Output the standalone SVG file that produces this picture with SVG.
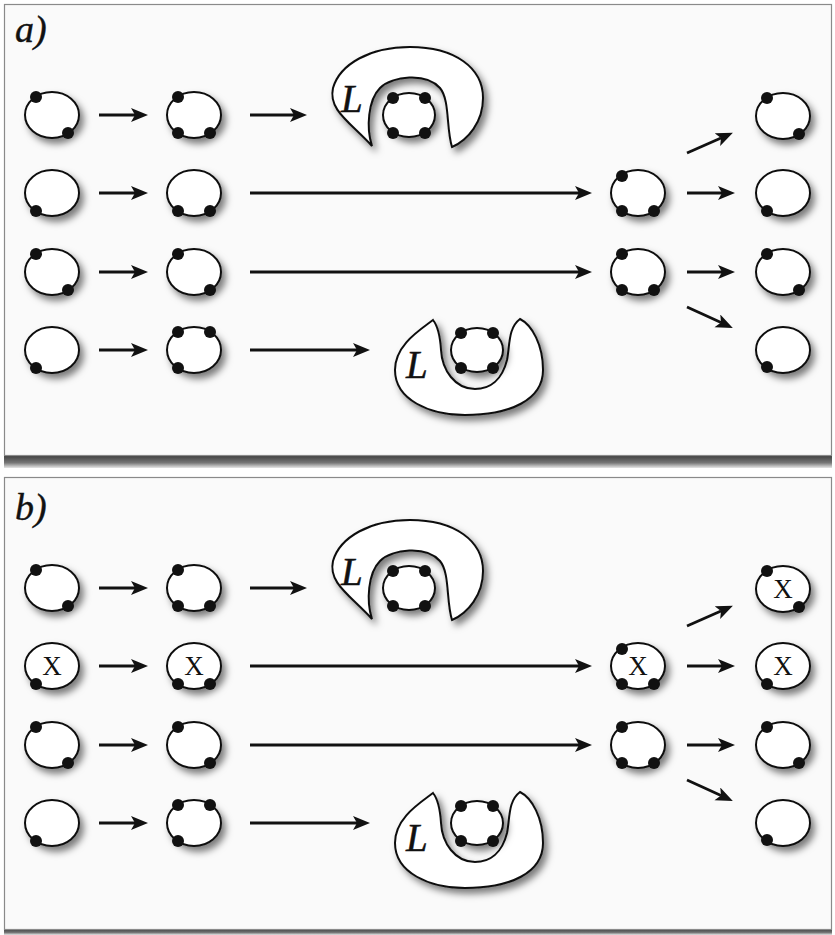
<svg xmlns="http://www.w3.org/2000/svg" width="835" height="935" viewBox="0 0 835 935">
<defs>
<style>
.panel{fill:#fafafa;stroke:#8a8a8a;stroke-width:1.2}
.cell{fill:#fff;stroke:#111;stroke-width:2;filter:url(#sh)}
.dot{fill:#111}
.lig{fill:#fff;stroke:#111;stroke-width:2;filter:url(#sh)}
.lbl{font-family:"Liberation Serif",serif;font-style:italic;font-size:39px;fill:#111;stroke:#111;stroke-width:0.5}
.tag{font-family:"Liberation Serif",serif;font-style:italic;font-size:38px;fill:#111;stroke:#111;stroke-width:0.4}
.x{font-family:"Liberation Serif",serif;font-size:27px;fill:#111;text-anchor:middle}
.arr{stroke:#111;stroke-width:2.8;fill:none;marker-end:url(#ah)}
</style>
<filter id="sh" x="-30%" y="-30%" width="170%" height="170%">
<feDropShadow dx="4" dy="5" stdDeviation="3.5" flood-color="#000" flood-opacity="0.5"/>
</filter>
<marker id="ah" markerUnits="userSpaceOnUse" markerWidth="20" markerHeight="16" refX="4" refY="7" orient="auto">
<path d="M0,0 L17,7 L0,14 L4,7 Z" fill="#111"/>
</marker>
<linearGradient id="bar" x1="0" y1="0" x2="0" y2="1">
<stop offset="0" stop-color="#3a3a3a"/>
<stop offset="0.6" stop-color="#777"/>
<stop offset="1" stop-color="#e6e6e6"/>
</linearGradient>
</defs>
<rect width="835" height="935" fill="#fff"/>

<!-- panel a -->
<rect x="4" y="455" width="828" height="13" fill="url(#bar)"/>
<rect class="panel" x="4.5" y="4.5" width="827" height="451"/>
<text class="tag" x="15" y="42">a)</text>

<g id="panel-a">
<g id="connectors-a">
<line class="arr" x1="99" y1="115" x2="135" y2="115"/>
<line class="arr" x1="250" y1="115" x2="294" y2="115"/>
<line class="arr" x1="99" y1="193" x2="135" y2="193"/>
<line class="arr" x1="250" y1="193" x2="579" y2="193"/>
<line class="arr" x1="99" y1="272" x2="135" y2="272"/>
<line class="arr" x1="250" y1="272" x2="579" y2="272"/>
<line class="arr" x1="99" y1="350" x2="135" y2="350"/>
<line class="arr" x1="250" y1="350" x2="357" y2="350"/>
<line class="arr" x1="687" y1="153" x2="721" y2="138"/>
<line class="arr" x1="687" y1="193" x2="722" y2="193"/>
<line class="arr" x1="687" y1="272" x2="722" y2="272"/>
<line class="arr" x1="687" y1="307" x2="721" y2="322.5"/>
</g>

<g id="a-r1-c1"><ellipse class="cell" cx="52" cy="115" rx="27" ry="23"/><circle class="dot" cx="36" cy="97" r="6"/><circle class="dot" cx="68" cy="133" r="6"/></g>
<g id="a-r1-c2"><ellipse class="cell" cx="194" cy="115" rx="27" ry="23"/><circle class="dot" cx="178" cy="97" r="6"/><circle class="dot" cx="178" cy="133" r="6"/><circle class="dot" cx="210" cy="133" r="6"/></g>
<g id="a-r1-L">
<path class="lig" d="M372,146 C366,128 368,100 380,88 C392,76 426,72 440,88 C450,100 446,128 452,147 C468,140 483,122 483,98 C483,68 455,47 410,47 C370,47 340,64 333,88 C328,110 350,122 372,146 Z"/>
<ellipse class="cell" cx="409" cy="115" rx="26" ry="22"/>
<circle class="dot" cx="393" cy="98" r="6"/><circle class="dot" cx="425" cy="98" r="6"/><circle class="dot" cx="393" cy="133" r="6"/><circle class="dot" cx="425" cy="133" r="6"/>
<text class="lbl" x="341" y="112">L</text>
</g>
<g id="a-r1-right"><ellipse class="cell" cx="783" cy="116" rx="27" ry="23"/><circle class="dot" cx="767" cy="98" r="6"/><circle class="dot" cx="799" cy="134" r="6"/></g>

<g id="a-r2-c1"><ellipse class="cell" cx="52" cy="193" rx="27" ry="23"/><circle class="dot" cx="36" cy="211" r="6"/></g>
<g id="a-r2-c2"><ellipse class="cell" cx="194" cy="193" rx="27" ry="23"/><circle class="dot" cx="178" cy="211" r="6"/><circle class="dot" cx="210" cy="211" r="6"/></g>
<g id="a-r2-mid"><ellipse class="cell" cx="638" cy="193" rx="27" ry="23"/><circle class="dot" cx="622" cy="176" r="6"/><circle class="dot" cx="622" cy="211" r="6"/><circle class="dot" cx="654" cy="211" r="6"/></g>
<g id="a-r2-right"><ellipse class="cell" cx="783" cy="193" rx="27" ry="23"/><circle class="dot" cx="767" cy="211" r="6"/></g>

<g id="a-r3-c1"><ellipse class="cell" cx="52" cy="272" rx="27" ry="23"/><circle class="dot" cx="36" cy="254" r="6"/><circle class="dot" cx="68" cy="290" r="6"/></g>
<g id="a-r3-c2"><ellipse class="cell" cx="194" cy="272" rx="27" ry="23"/><circle class="dot" cx="178" cy="254" r="6"/><circle class="dot" cx="210" cy="290" r="6"/></g>
<g id="a-r3-mid"><ellipse class="cell" cx="638" cy="272" rx="27" ry="23"/><circle class="dot" cx="622" cy="254" r="6"/><circle class="dot" cx="622" cy="290" r="6"/><circle class="dot" cx="654" cy="290" r="6"/></g>
<g id="a-r3-right"><ellipse class="cell" cx="783" cy="272" rx="27" ry="23"/><circle class="dot" cx="767" cy="254" r="6"/><circle class="dot" cx="799" cy="290" r="6"/></g>

<g id="a-r4-c1"><ellipse class="cell" cx="52" cy="350" rx="27" ry="23"/><circle class="dot" cx="36" cy="368" r="6"/></g>
<g id="a-r4-c2"><ellipse class="cell" cx="194" cy="350" rx="27" ry="23"/><circle class="dot" cx="178" cy="332" r="6"/><circle class="dot" cx="210" cy="332" r="6"/><circle class="dot" cx="178" cy="368" r="6"/></g>
<g id="a-r4-L">
<path class="lig" d="M433,320 C420,330 395,345 395,370 C395,400 430,415 465,415 C510,415 543,400 543,370 C543,345 532,325 520,319 C508,328 510,345 507,360 C502,380 490,389 475,389 C455,389 442,370 441,350 C440,335 437,325 433,320 Z"/>
<ellipse class="cell" cx="477" cy="350" rx="26" ry="22"/>
<circle class="dot" cx="461" cy="333" r="6"/><circle class="dot" cx="493" cy="333" r="6"/><circle class="dot" cx="461" cy="368" r="6"/><circle class="dot" cx="493" cy="368" r="6"/>
<text class="lbl" x="406" y="378">L</text>
</g>
<g id="a-r4-right"><ellipse class="cell" cx="783" cy="350" rx="27" ry="23"/><circle class="dot" cx="767" cy="367" r="6"/></g>
</g>

<!-- panel b -->
<rect x="4" y="929" width="828" height="6" fill="url(#bar)"/>
<rect class="panel" x="4.5" y="477.5" width="827" height="452"/>
<text class="tag" x="15" y="520">b)</text>

<g id="panel-b" transform="translate(0,473)">
<g id="connectors-b">
<line class="arr" x1="99" y1="115" x2="135" y2="115"/>
<line class="arr" x1="250" y1="115" x2="294" y2="115"/>
<line class="arr" x1="99" y1="193" x2="135" y2="193"/>
<line class="arr" x1="250" y1="193" x2="579" y2="193"/>
<line class="arr" x1="99" y1="272" x2="135" y2="272"/>
<line class="arr" x1="250" y1="272" x2="579" y2="272"/>
<line class="arr" x1="99" y1="350" x2="135" y2="350"/>
<line class="arr" x1="250" y1="350" x2="357" y2="350"/>
<line class="arr" x1="687" y1="153" x2="721" y2="138"/>
<line class="arr" x1="687" y1="193" x2="722" y2="193"/>
<line class="arr" x1="687" y1="272" x2="722" y2="272"/>
<line class="arr" x1="687" y1="307" x2="721" y2="322.5"/>
</g>

<g id="b-r1-c1"><ellipse class="cell" cx="52" cy="115" rx="27" ry="23"/><circle class="dot" cx="36" cy="97" r="6"/><circle class="dot" cx="68" cy="133" r="6"/></g>
<g id="b-r1-c2"><ellipse class="cell" cx="194" cy="115" rx="27" ry="23"/><circle class="dot" cx="178" cy="97" r="6"/><circle class="dot" cx="178" cy="133" r="6"/><circle class="dot" cx="210" cy="133" r="6"/></g>
<g id="b-r1-L">
<path class="lig" d="M372,146 C366,128 368,100 380,88 C392,76 426,72 440,88 C450,100 446,128 452,147 C468,140 483,122 483,98 C483,68 455,47 410,47 C370,47 340,64 333,88 C328,110 350,122 372,146 Z"/>
<ellipse class="cell" cx="409" cy="115" rx="26" ry="22"/>
<circle class="dot" cx="393" cy="98" r="6"/><circle class="dot" cx="425" cy="98" r="6"/><circle class="dot" cx="393" cy="133" r="6"/><circle class="dot" cx="425" cy="133" r="6"/>
<text class="lbl" x="341" y="112">L</text>
</g>
<g id="b-r1-right"><ellipse class="cell" cx="783" cy="116" rx="27" ry="23"/><circle class="dot" cx="767" cy="98" r="6"/><circle class="dot" cx="799" cy="134" r="6"/><text class="x" x="783" y="125">X</text></g>

<g id="b-r2-c1"><ellipse class="cell" cx="52" cy="193" rx="27" ry="23"/><circle class="dot" cx="36" cy="211" r="6"/><text class="x" x="52" y="202">X</text></g>
<g id="b-r2-c2"><ellipse class="cell" cx="194" cy="193" rx="27" ry="23"/><circle class="dot" cx="178" cy="211" r="6"/><circle class="dot" cx="210" cy="211" r="6"/><text class="x" x="194" y="202">X</text></g>
<g id="b-r2-mid"><ellipse class="cell" cx="638" cy="193" rx="27" ry="23"/><circle class="dot" cx="622" cy="176" r="6"/><circle class="dot" cx="622" cy="211" r="6"/><circle class="dot" cx="654" cy="211" r="6"/><text class="x" x="638" y="202">X</text></g>
<g id="b-r2-right"><ellipse class="cell" cx="783" cy="193" rx="27" ry="23"/><circle class="dot" cx="767" cy="211" r="6"/><text class="x" x="783" y="202">X</text></g>

<g id="b-r3-c1"><ellipse class="cell" cx="52" cy="272" rx="27" ry="23"/><circle class="dot" cx="36" cy="254" r="6"/><circle class="dot" cx="68" cy="290" r="6"/></g>
<g id="b-r3-c2"><ellipse class="cell" cx="194" cy="272" rx="27" ry="23"/><circle class="dot" cx="178" cy="254" r="6"/><circle class="dot" cx="210" cy="290" r="6"/></g>
<g id="b-r3-mid"><ellipse class="cell" cx="638" cy="272" rx="27" ry="23"/><circle class="dot" cx="622" cy="254" r="6"/><circle class="dot" cx="622" cy="290" r="6"/><circle class="dot" cx="654" cy="290" r="6"/></g>
<g id="b-r3-right"><ellipse class="cell" cx="783" cy="272" rx="27" ry="23"/><circle class="dot" cx="767" cy="254" r="6"/><circle class="dot" cx="799" cy="290" r="6"/></g>

<g id="b-r4-c1"><ellipse class="cell" cx="52" cy="350" rx="27" ry="23"/><circle class="dot" cx="36" cy="368" r="6"/></g>
<g id="b-r4-c2"><ellipse class="cell" cx="194" cy="350" rx="27" ry="23"/><circle class="dot" cx="178" cy="332" r="6"/><circle class="dot" cx="210" cy="332" r="6"/><circle class="dot" cx="178" cy="368" r="6"/></g>
<g id="b-r4-L">
<path class="lig" d="M433,320 C420,330 395,345 395,370 C395,400 430,415 465,415 C510,415 543,400 543,370 C543,345 532,325 520,319 C508,328 510,345 507,360 C502,380 490,389 475,389 C455,389 442,370 441,350 C440,335 437,325 433,320 Z"/>
<ellipse class="cell" cx="477" cy="350" rx="26" ry="22"/>
<circle class="dot" cx="461" cy="333" r="6"/><circle class="dot" cx="493" cy="333" r="6"/><circle class="dot" cx="461" cy="368" r="6"/><circle class="dot" cx="493" cy="368" r="6"/>
<text class="lbl" x="406" y="378">L</text>
</g>
<g id="b-r4-right"><ellipse class="cell" cx="783" cy="350" rx="27" ry="23"/><circle class="dot" cx="767" cy="367" r="6"/></g>
</g>
</svg>
